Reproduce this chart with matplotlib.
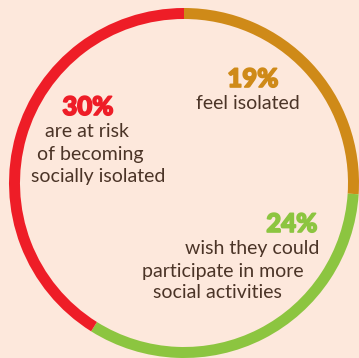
import matplotlib
matplotlib.use("Agg")
import matplotlib.pyplot as plt
import matplotlib.patheffects as pe

# Data
labels = ["feel isolated", "wish they could participate in more social activities",
          "are at risk of becoming socially isolated"]
values = [19, 24, 30]
pct_labels = ["19%", "24%", "30%"]
colors = ["#CF8A18", "#8CC540", "#EE1D27"]

BG = "#FDE8DC"
TXT = "#4B3427"

W, H = 359, 358
fig = plt.figure(figsize=(W / 100, H / 100), dpi=100, facecolor=BG)
ax = fig.add_axes([0, 0, 1, 1])
ax.set_facecolor(BG)

cx, cy, R = 184, 183, 175
ax.pie(values, colors=colors, startangle=90, counterclock=False, radius=1,
       wedgeprops=dict(width=11 / R, linewidth=0))
ax.set_xlim(-cx / R, (W - cx) / R)
ax.set_ylim(-(H - cy) / R, cy / R)
ax.set_aspect("equal")
ax.axis("off")

def put(px, py, s, size, color, weight="normal", heavy=False):
    t = fig.text(px / W, 1 - py / H, s, ha="center", va="baseline",
                 fontsize=size, color=color, fontweight=weight,
                 family=["Lato", "DejaVu Sans"])
    if heavy:
        t.set_path_effects([pe.withStroke(linewidth=1.2, foreground=color)])

# 19%
put(253, 87, pct_labels[0], 18.5, colors[0], "black", True)
put(248, 109, "feel isolated", 14, TXT)
# 30%
put(88, 115, pct_labels[2], 18.5, colors[2], "black", True)
put(87, 137, "are at risk", 14, TXT)
put(90, 160, "of becoming", 14, TXT)
put(98, 182, "socially isolated", 14, TXT)
# 24%
put(292, 232, pct_labels[1], 18.5, colors[1], "black", True)
put(252, 254, "wish they could", 14, TXT)
put(223, 277, "participate in more", 14, TXT)
put(217, 298, "social activities", 14, TXT)

fig.savefig("out.png", dpi=100, facecolor=BG)
